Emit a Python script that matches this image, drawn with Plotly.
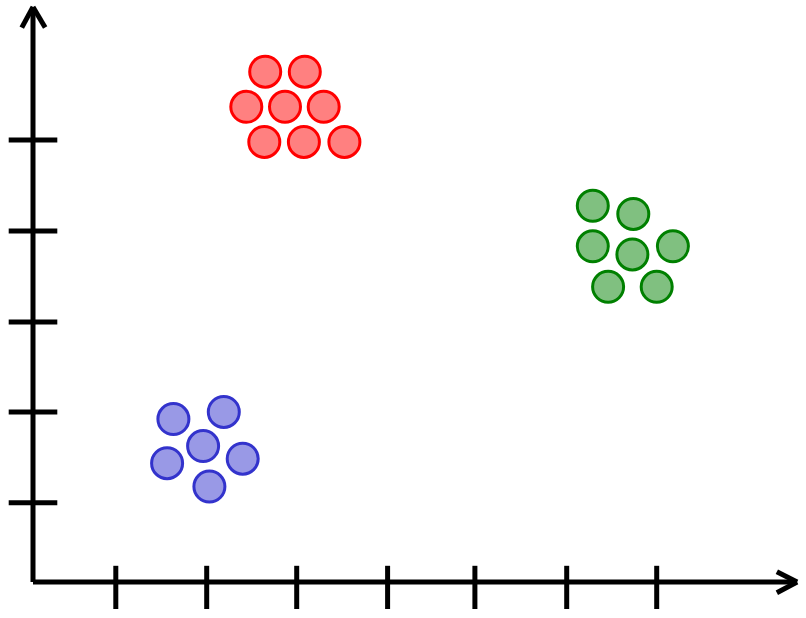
import plotly.graph_objects as go

# Cluster data (x, y in axis units)
red_x = [2.58, 3.02, 2.37, 2.80, 3.23, 2.57, 3.01, 3.46]
red_y = [5.67, 5.67, 5.28, 5.28, 5.28, 4.89, 4.89, 4.89]
green_x = [6.22, 6.67, 6.22, 6.66, 7.11, 6.39, 6.93]
green_y = [4.18, 4.09, 3.73, 3.64, 3.73, 3.28, 3.28]
blue_x = [1.56, 2.12, 1.89, 1.49, 2.33, 1.96]
blue_y = [1.81, 1.89, 1.51, 1.32, 1.37, 1.06]

# Tick positions (hand drawn)
x_ticks = [0.92, 1.93, 2.93, 3.94, 4.91, 5.93, 6.93]
y_ticks = [4.91, 3.90, 2.89, 1.89, 0.88]

X_END = 8.49
Y_END = 6.39

fig = go.Figure()
series = [
    (red_x, red_y, "#ff8080", "#ff0000"),
    (green_x, green_y, "#80c080", "#008000"),
    (blue_x, blue_y, "#9999e6", "#3333cc"),
]
for xs, ys, fill, edge in series:
    fig.add_trace(go.Scatter(
        x=xs, y=ys, mode="markers",
        marker=dict(size=31, color=fill, line=dict(color=edge, width=3)),
        hoverinfo="skip", showlegend=False,
    ))

shapes = []
lw = 5
def seg(x0, y0, x1, y1):
    shapes.append(dict(type="line", xref="x", yref="y", x0=x0, y0=y0, x1=x1, y1=y1,
                       line=dict(color="black", width=lw), layer="below"))

# axes
seg(0, 0, 0, Y_END)
seg(0, 0, X_END, 0)
# arrow heads
seg(0, Y_END, -0.125, Y_END - 0.23)
seg(0, Y_END, 0.135, Y_END - 0.23)
seg(X_END, 0, X_END - 0.225, 0.115)
seg(X_END, 0, X_END - 0.225, -0.12)
# ticks
for t in x_ticks:
    seg(t, 0.18, t, -0.3)
for t in y_ticks:
    seg(-0.27, t, 0.27, t)

fig.update_layout(
    width=806, height=618,
    margin=dict(l=0, r=0, t=0, b=0),
    paper_bgcolor="white", plot_bgcolor="white",
    xaxis=dict(range=[-33/90, 773/90], visible=False, fixedrange=True),
    yaxis=dict(range=[-36/90, 582/90], visible=False, fixedrange=True),
    shapes=shapes,
)
fig.write_html("out.html", config={"displayModeBar": False},
               post_script="document.body.style.margin='0';document.body.style.overflow='hidden';")
